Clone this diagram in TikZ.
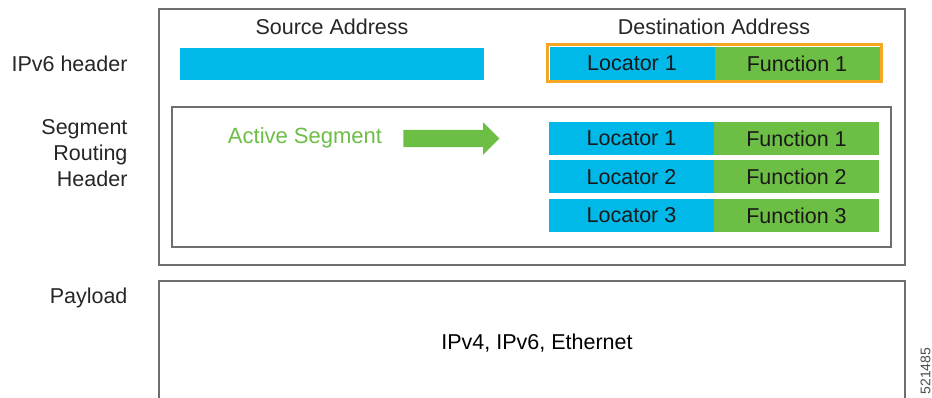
\documentclass[tikz,border=0pt]{standalone}
\usepackage{fontspec}
\setmainfont{Liberation Sans}
\usetikzlibrary{arrows.meta,shapes,positioning,fit}

\definecolor{locblue}{HTML}{00B9E8}
\definecolor{fungreen}{HTML}{6DBE45}
\definecolor{daorange}{HTML}{F5A623}
\definecolor{framegray}{HTML}{6E6E6E}

\begin{document}
\begin{tikzpicture}[
  x=1pt, y=-1pt,                            % one unit = one pixel of the sketch
  font=\fontsize{21.5}{26}\selectfont,
  boxframe/.style = {draw=framegray,
                     line width=1.6pt,
                     inner sep=0pt,
                     outer sep=0pt},
  bar/.style      = {inner sep=0pt,
                     outer sep=0pt,
                     minimum height=33pt,
                     minimum width=165pt,
                     text=black!90},
  loc/.style      = {bar, fill=locblue},
  fun/.style      = {bar, fill=fungreen},
  rowname/.style  = {anchor=east, align=right, text=black!85},
  heading/.style  = {text=black!85}
]

\useasboundingbox (0,0) rectangle (932,398);
\clip (0,0) rectangle (932,398);

% frames
\node[boxframe, minimum width=746pt, minimum height=256pt] (hdr) at (532,137) {};
\node[boxframe, minimum width=719pt, minimum height=140pt] (srh) at (531.5,177) {};
\node[boxframe, minimum width=746pt, minimum height=140pt] (payload) at (532,351) {};

% row names
\node[rowname] (ipv6)  at (131,64)  {IPv6 header};
\node[rowname] (srhname) at (131,153) {Segment\\Routing\\Header};
\node[rowname] (payname) at (131,298) {Payload};

% addresses
\node[heading] (srctitle) at (332,27) {Source Address};
\node[heading] (dsttitle) at (714,27) {Destination Address};

\node[loc, minimum width=304pt, minimum height=32pt] (src) at (332,64) {};

\node[draw=daorange, line width=3pt, minimum width=334pt, minimum height=37pt,
      inner sep=0pt] (dst) at (714.5,63.5) {};
\node[loc] (dloc) at (632,63.5) {Locator 1};
\node[fun, right=0pt of dloc] (dfun) {Function 1};

% segment list
\node[loc] (loc1) at (631.5,138.5) {Locator 1};
\node[fun, right=0pt of loc1] (fun1) {Function 1};
\foreach \i [remember=\i as \j (initially 1)] in {2,3} {
  \node[loc, below=5.5pt of loc\j] (loc\i) {Locator \i};
  \node[fun, right=0pt of loc\i]   (fun\i) {Function \i};
}

\node[text=fungreen, font=\fontsize{22}{26}\selectfont] (active) at (305,138) {Active Segment};
\node[single arrow, fill=fungreen, inner xsep=0pt, inner ysep=8.5pt, minimum height=96pt,
      single arrow head extend=7.5pt] (actarr) at (447,138.5) {};

\node (payload text) at (537,343) {IPv4, IPv6, Ethernet};

\node[rotate=90, text=black!70, font=\fontsize{14}{17}\selectfont] (figno) at (925.5,371) {521485};

\end{tikzpicture}
\end{document}
